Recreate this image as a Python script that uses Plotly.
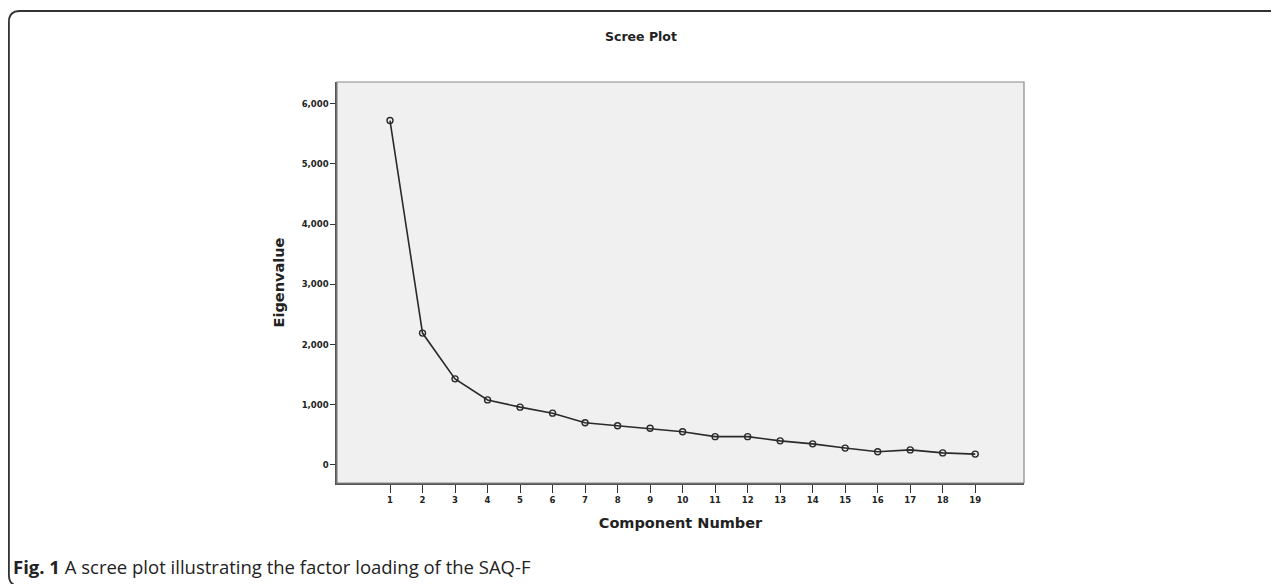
import plotly.graph_objects as go

components = list(range(1, 20))
eigenvalues = [5.72, 2.19, 1.43, 1.08, 0.96, 0.86, 0.70, 0.65, 0.61, 0.55,
               0.47, 0.47, 0.40, 0.35, 0.28, 0.22, 0.25, 0.20, 0.18]
y_tick_vals = [0, 1, 2, 3, 4, 5, 6]
y_tick_text = ["0", "1,000", "2,000", "3,000", "4,000", "5,000", "6,000"]

# page is rendered with an 8px body margin; work in page coordinates and shift
OFF = 8
W, H = 1279 - OFF, 584 - OFF
L, R, T, B = 337 - OFF, 1024 - OFF, 82 - OFF, 483 - OFF
pw, ph = R - L, B - T

def px(x):  # page x -> paper
    return (x - OFF - L) / pw

def py(y):  # page y -> paper
    return (B - (y - OFF)) / ph

FONT = "DejaVu Sans, Verdana, sans-serif"

fig = go.Figure()
fig.add_trace(go.Scatter(
    x=components, y=eigenvalues, mode="lines+markers",
    line=dict(color="#2a2a2a", width=1.6),
    marker=dict(symbol="circle-open", size=6, color="#2a2a2a", line=dict(width=1.4)),
    showlegend=False, hoverinfo="skip"))

fig.update_xaxes(range=[-0.63, 20.5], tickvals=components,
                 ticktext=[f"<b>{c}</b>" for c in components],
                 showgrid=False, zeroline=False, ticks="outside", ticklen=8, tickwidth=1,
                 tickcolor="#333333", showline=True, linecolor="#555555", linewidth=1.5,
                 tickfont=dict(family=FONT, size=8.5, color="#222222"),
                 title=dict(text="<b>Component Number</b>", standoff=14,
                            font=dict(family=FONT, size=14.5, color="#222222")))
fig.update_yaxes(range=[-0.3, 6.36], tickvals=y_tick_vals,
                 ticktext=[f"<b>{t}</b>" for t in y_tick_text],
                 showgrid=False, zeroline=False, ticks="outside", ticklen=5, tickwidth=1,
                 tickcolor="#333333", showline=True, linecolor="#555555", linewidth=1.5,
                 tickfont=dict(family=FONT, size=8.5, color="#222222"),
                 title=dict(text="<b>Eigenvalue</b>", standoff=14,
                            font=dict(family=FONT, size=14.5, color="#222222")))

# plot area border (top/right)
fig.add_shape(type="rect", xref="paper", yref="paper", x0=0, y0=0, x1=1, y1=1,
              line=dict(color="#888888", width=1.2), fillcolor="rgba(0,0,0,0)", layer="above")

# rounded figure frame (bottom edge runs just off the page)
xl = 8.9
path = (f"M {px(1300)},{py(11)} L {px(20)},{py(11)} Q {px(xl)},{py(11)} {px(xl)},{py(22)} "
        f"L {px(xl)},{py(575)} Q {px(xl)},{py(586)} {px(20)},{py(586)} L {px(1300)},{py(586)}")
fig.add_shape(type="path", xref="paper", yref="paper", path=path,
              line=dict(color="#333333", width=1.8))

fig.add_annotation(xref="paper", yref="paper", x=px(641), y=py(36), text="<b>Scree Plot</b>",
                   showarrow=False, xanchor="center", yanchor="middle",
                   font=dict(family=FONT, size=12.5, color="#222222"))

fig.add_annotation(xref="paper", yref="paper", x=px(11), y=py(566),
                   text="<b>Fig. 1</b> A scree plot illustrating the factor loading of the SAQ-F",
                   showarrow=False, xanchor="left", yanchor="middle",
                   font=dict(family="Open Sans, sans-serif", size=18.5, color="#222222"))

fig.update_layout(width=W, height=H, margin=dict(l=L, r=W - R, t=T, b=H - B),
                  paper_bgcolor="white", plot_bgcolor="#f0f0f0", showlegend=False)

fig.write_html("out.html")
